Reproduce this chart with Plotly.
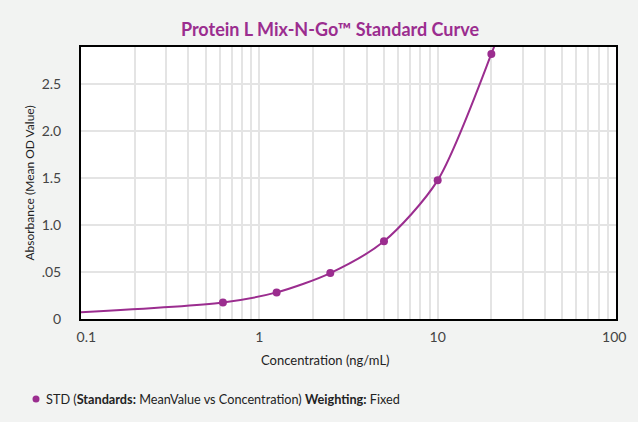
import plotly.graph_objects as go

# Standards data
conc = [0.625, 1.25, 2.5, 5, 10, 20]
mean_od = [0.176, 0.283, 0.489, 0.827, 1.475, 2.82]

# Fitted curve
curve_conc = [0.1, 0.625, 1.25, 2.5, 5, 10, 20, 21.2]
curve_od = [0.073, 0.176, 0.283, 0.489, 0.827, 1.475, 2.82, 2.95]

# Axis ticks
x_tickvals = [0.1, 0.2, 0.3, 0.4, 0.5, 0.6, 0.7, 0.8, 0.9,
              1, 2, 3, 4, 5, 6, 7, 8, 9,
              10, 20, 30, 40, 50, 60, 70, 80, 90, 100]
x_ticktext = ["\u00a0\u00a0\u00a00.1", "", "", "", "", "", "", "", "",
              "1", "", "", "", "", "", "", "", "",
              "10", "", "", "", "", "", "", "", "", "100\u00a0"]
y_tickvals = [0, 0.5, 1.0, 1.5, 2.0, 2.5]
y_ticktext = ["0", ".05", "1.0", "1.5", "2.0", "2.5"]

PURPLE = "#9b2d8f"
FONT = "Lato"
LEGEND_TEXT = "STD (<b>Standards:</b> MeanValue vs Concentration) <b>Weighting:</b> Fixed"

fig = go.Figure()
fig.add_trace(go.Scatter(
    x=curve_conc, y=curve_od, mode="lines",
    line=dict(color=PURPLE, width=2, shape="spline", smoothing=0.8),
    showlegend=False, hoverinfo="skip"))
fig.add_trace(go.Scatter(
    x=conc, y=mean_od, mode="markers",
    marker=dict(color=PURPLE, size=8),
    name=LEGEND_TEXT, showlegend=False))

# legend symbol + text drawn below the plot
fig.add_shape(type="circle", xref="paper", yref="paper",
              xsizemode="pixel", ysizemode="pixel",
              xanchor=-0.0841, yanchor=-0.294,
              x0=-3.5, x1=3.5, y0=-3.5, y1=3.5,
              fillcolor=PURPLE, line=dict(width=0))
fig.add_annotation(text=LEGEND_TEXT, xref="paper", yref="paper",
                   x=-0.0692, y=-0.294, xanchor="left", yanchor="middle",
                   showarrow=False, font=dict(size=12.7, color="#222222"))
# x axis title (centred on the page, as in the reference)
fig.add_annotation(text="Concentration (ng/mL)", xref="paper", yref="paper",
                   x=(325 - 81) / 535, y=(319 - 360) / 272,
                   xanchor="center", yanchor="middle", showarrow=False,
                   font=dict(size=13, color="#222222"))

fig.update_layout(
    width=638, height=422,
    paper_bgcolor="#f2f3f2", plot_bgcolor="white",
    margin=dict(l=81, r=22, t=47, b=103, autoexpand=False),
    font=dict(family=FONT, size=13, color="#333333"),
    showlegend=False,
    title=dict(text="<b>Protein L Mix-N-Go\u2122 Standard Curve</b>",
               x=(330) / 638, xanchor="center",
               yref="container", y=1 - 29.5 / 422, yanchor="middle",
               font=dict(family=FONT, size=18, color=PURPLE)),
    xaxis=dict(type="log", range=[-1, 2], automargin=False,
               tickvals=x_tickvals, ticktext=x_ticktext,
               showgrid=True, gridcolor="#e4e4e4", gridwidth=1.5,
               showline=True, linecolor="black", linewidth=2, mirror=True,
               ticks="", zeroline=False, ticklabelstandoff=4,
               tickfont=dict(size=14, color="#444444")),
    yaxis=dict(range=[0, 2.894], automargin=False,
               tickvals=y_tickvals, ticktext=y_ticktext,
               showgrid=True, gridcolor="#e4e4e4", gridwidth=1.5,
               showline=True, linecolor="black", linewidth=2, mirror=True,
               ticks="", zeroline=False, ticklabelstandoff=15,
               tickfont=dict(size=14, color="#444444"),
               title=dict(text="Absorbance (Mean OD Value)", standoff=4,
                          font=dict(size=12, color="#222222"))),
)

fig.write_html("out.html",
               config={"displayModeBar": False},
               post_script="document.body.style.margin='0';"
                           "document.body.style.background='#f2f3f2';")
